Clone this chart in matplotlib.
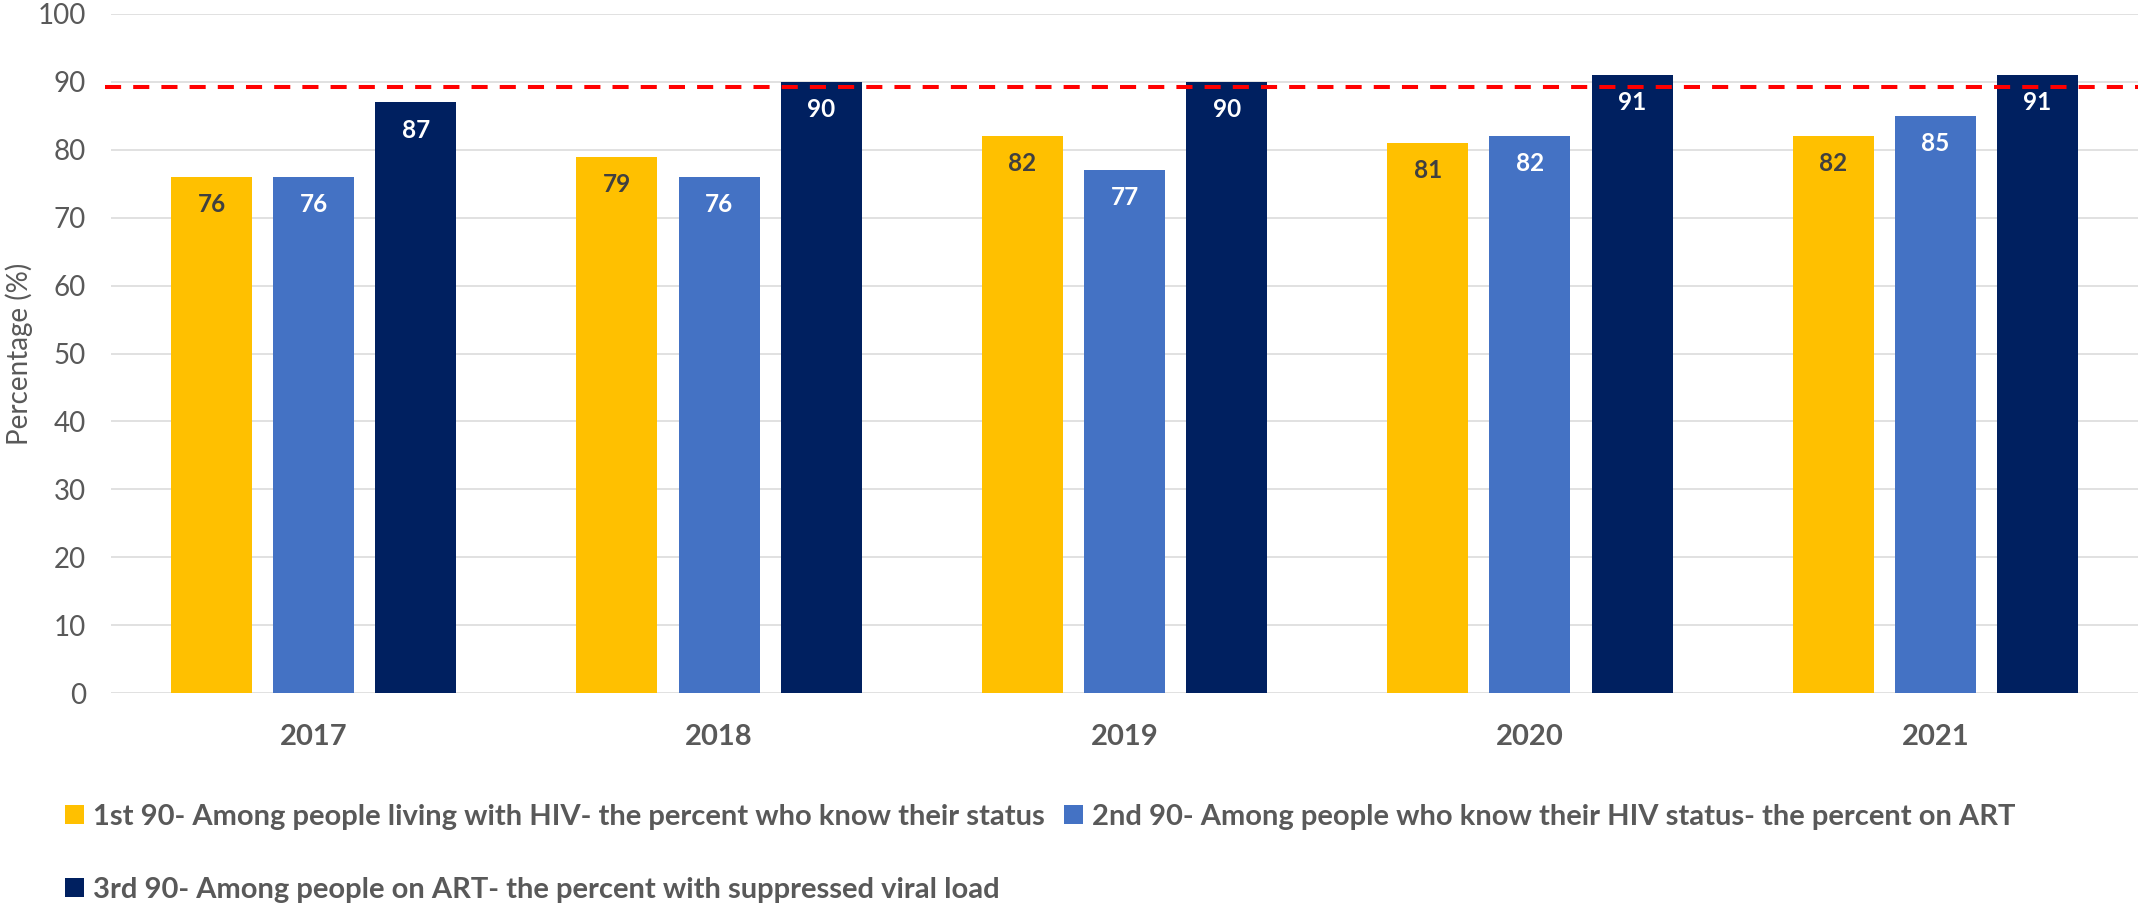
import matplotlib.pyplot as plt
import numpy as np

plt.rcParams['font.family'] = ['Lato', 'DejaVu Sans']

years = ["2017", "2018", "2019", "2020", "2021"]
first_90 = [76, 79, 82, 81, 82]
second_90 = [76, 76, 77, 82, 85]
third_90 = [87, 90, 90, 91, 91]
target = 89.2

labels = [
    "1st 90- Among people living with HIV- the percent who know their status",
    "2nd 90- Among people who know their HIV status- the percent on ART",
    "3rd 90- Among people on ART- the percent with suppressed viral load",
]
colors = ["#FFC000", "#4472C4", "#002060"]
text_colors = ["#404040", "white", "white"]

gray = "#595959"

fig = plt.figure(figsize=(21.38, 9.08), dpi=100)
ax = fig.add_axes([111 / 2138, 1 - 693 / 908, 1 - 111 / 2138, (693 - 14) / 908])

x = np.arange(len(years))
width = 0.2
step = 0.252

bars = []
for i, (vals, col, tcol) in enumerate(zip([first_90, second_90, third_90], colors, text_colors)):
    pos = x + (i - 1) * step
    b = ax.bar(pos, vals, width, color=col, label=labels[i], zorder=2)
    bars.append(b)
    for xp, v in zip(pos, vals):
        ax.annotate(str(v), xy=(xp, v), xytext=(0, -20), textcoords="offset points",
                    ha="center", va="center", fontsize=17.5, fontweight="bold",
                    color=tcol, zorder=4)

ax.axhline(target, xmin=-0.003, xmax=1, color="#FF0000", lw=2.9,
           linestyle=(0, (4, 3)), zorder=3, clip_on=False)

ax.set_xlim(-0.5, 4.5)
ax.set_ylim(0, 100)
ax.set_yticks(range(0, 101, 10))
ax.set_xticks(x)
ax.set_xticklabels(years, fontsize=21, fontweight="bold", color=gray)
ax.tick_params(axis="x", length=0, pad=22)
ax.tick_params(axis="y", length=0, pad=18, labelsize=20, labelcolor=gray)
ax.yaxis.grid(True, color="#D9D9D9", lw=1.1, zorder=0)
ax.set_axisbelow(True)
for s in ax.spines.values():
    s.set_visible(False)

ax.set_ylabel("Percentage (%)", fontsize=20, color=gray)
ax.yaxis.set_label_coords(-78 / 2027, 0.5)

handles = [bars[0], bars[2], bars[1]]
leg_labels = [labels[0], labels[2], labels[1]]
leg = fig.legend(handles, leg_labels, loc="upper left", bbox_to_anchor=(50 / 2138, 1 - 789 / 908),
                 ncol=2, frameon=False, fontsize=21, handlelength=0.65, handleheight=0.65,
                 handletextpad=0.32, columnspacing=0.65, labelspacing=1.62, borderpad=0)
for t in leg.get_texts():
    t.set_color(gray)
    t.set_fontweight("bold")

fig.savefig("out.png", dpi=100)
